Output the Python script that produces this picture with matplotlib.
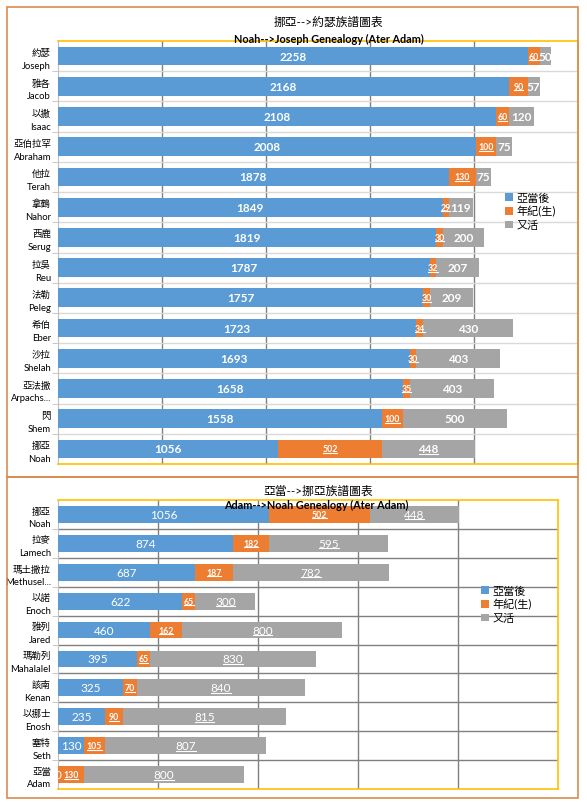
import matplotlib
matplotlib.use("Agg")
import matplotlib.pyplot as plt
import numpy as np
from matplotlib.patches import Rectangle
from matplotlib.lines import Line2D
from matplotlib.transforms import IdentityTransform

plt.rcParams['font.family'] = ['Lato', 'Noto Sans CJK TC', 'DejaVu Sans']

# top chart: Noah -> Joseph
top_cn = ['約瑟', '雅各', '以撒', '亞伯拉罕', '他拉', '拿鶴', '西鹿', '拉吳', '法勒', '希伯', '沙拉', '亞法撒', '閃', '挪亞']
top_en = ['Joseph', 'Jacob', 'Isaac', 'Abraham', 'Terah', 'Nahor', 'Serug', 'Reu', 'Peleg', 'Eber', 'Shelah', 'Arpachs...', 'Shem', 'Noah']
top_after_adam = [2258, 2168, 2108, 2008, 1878, 1849, 1819, 1787, 1757, 1723, 1693, 1658, 1558, 1056]
top_age_birth = [60, 90, 60, 100, 130, 29, 30, 32, 30, 34, 30, 35, 100, 502]
top_lived_on = [50, 57, 120, 75, 75, 119, 200, 207, 209, 430, 403, 403, 500, 448]

# bottom chart: Adam -> Noah
bot_cn = ['挪亞', '拉麥', '瑪土撒拉', '以諾', '雅列', '瑪勒列', '該南', '以挪士', '塞特', '亞當']
bot_en = ['Noah', 'Lamech', 'Methusel...', 'Enoch', 'Jared', 'Mahalalel', 'Kenan', 'Enosh', 'Seth', 'Adam']
bot_after_adam = [1056, 874, 687, 622, 460, 395, 325, 235, 130, 0]
bot_age_birth = [502, 182, 187, 65, 162, 65, 70, 90, 105, 130]
bot_lived_on = [448, 595, 782, 300, 800, 830, 840, 815, 807, 800]

series_names = ['亞當後', '年紀(生)', '又活']
colors = ['#5B9BD5', '#ED7D31', '#A5A5A5']
gold = '#FFC000'
frame_orange = '#D98B4E'

W, H = 587, 804
fig = plt.figure(figsize=(W / 100, H / 100), dpi=100)

# panel borders
for (x0, y0, x1, y1) in [(7, 8, 578, 478), (7, 478, 578, 799)]:
    fig.add_artist(Rectangle((x0 / W, 1 - y1 / H), (x1 - x0) / W, (y1 - y0) / H,
                             transform=fig.transFigure, fill=False,
                             edgecolor=frame_orange, linewidth=1.2))

underline = []


def draw_panel(rect, s1, s2, s3, bold_main, bar_h):
    ax = fig.add_axes(rect)
    y = np.arange(len(s1))
    left2 = np.array(s1)
    left3 = left2 + np.array(s2)
    b1 = ax.barh(y, s1, height=bar_h, color=colors[0], label=series_names[0], zorder=3)
    b2 = ax.barh(y, s2, left=left2, height=bar_h, color=colors[1], label=series_names[1], zorder=3)
    b3 = ax.barh(y, s3, left=left3, height=bar_h, color=colors[2], label=series_names[2], zorder=3)

    w = 'bold' if bold_main else 'normal'
    t1 = ax.bar_label(b1, labels=[str(v) for v in s1], label_type='center',
                      color='white', fontsize=8.5, fontweight=w)
    t2 = ax.bar_label(b2, labels=[str(v) for v in s2], label_type='center',
                      color='white', fontsize=6.3, fontweight='bold')
    t3 = ax.bar_label(b3, labels=[str(v) for v in s3], label_type='center',
                      color='white', fontsize=8.5, fontweight=w)
    for t in list(t1) + list(t2) + list(t3):
        t.set_zorder(5)
    underline.extend(t2)
    return ax, t3


ax1, g1 = draw_panel([58 / W, 1 - 465 / H, 520 / W, 423 / H],
                     top_after_adam, top_age_birth, top_lived_on, True, 0.62)
underline.append(g1[-1])
ax2, g2 = draw_panel([58 / W, 1 - 790 / H, 500 / W, 289 / H],
                     bot_after_adam, bot_age_birth, bot_lived_on, False, 0.58)
underline.extend(g2)

for ax, cn, en, hcol, leg_pos in [(ax1, top_cn, top_en, '#D9D9D9', (0.852, 0.598)),
                                  (ax2, bot_cn, bot_en, '#808080', (0.838, 0.64))]:
    n = len(cn)
    ax.set_xlim(0, 2500)
    ax.set_ylim(n - 0.5, -0.5)
    ax.set_xticks([500, 1000, 1500, 2000])
    ax.set_xticklabels([])
    ax.tick_params(axis='x', length=0)
    ax.grid(axis='x', color='#808080', linewidth=1, zorder=0)
    ax.set_yticks(np.arange(n))
    ax.set_yticklabels([c + '\n' + e for c, e in zip(cn, en)], fontsize=6.8, linespacing=1.55)
    ax.tick_params(axis='y', which='major', length=0, pad=5)
    ax.set_yticks(np.arange(n - 1) + 0.5, minor=True)
    ax.tick_params(axis='y', which='minor', length=4, color='#BFBFBF')
    ax.grid(axis='y', which='minor', color=hcol, linewidth=1, zorder=0)
    for s in ['top', 'right', 'bottom']:
        ax.spines[s].set_color(gold)
        ax.spines[s].set_linewidth(1.2)
    ax.spines['left'].set_color('#BFBFBF')
    ax.legend(loc='center left', bbox_to_anchor=leg_pos, frameon=False, fontsize=8,
              handlelength=0.7, handleheight=0.7, handletextpad=0.3, labelspacing=0.25,
              borderaxespad=0)

# titles
fig.text(328 / W, 1 - 22 / H, '挪亞-->約瑟族譜圖表', ha='center', va='center', fontsize=8.5)
fig.text(329 / W, 1 - 39 / H, 'Noah-->Joseph Genealogy (Ater Adam)', ha='center', va='center',
         fontsize=7.8, fontweight='bold', zorder=10)
fig.text(318 / W, 1 - 491 / H, '亞當-->挪亞族譜圖表', ha='center', va='center', fontsize=8.5)
fig.text(316 / W, 1 - 505 / H, 'Adam-->Noah Genealogy (Ater Adam)', ha='center', va='center',
         fontsize=7.8, fontweight='bold', zorder=10)

# white underlines under highlighted labels
fig.canvas.draw()
for t in underline:
    bb = t.get_window_extent()
    fig.add_artist(Line2D([bb.x0 + 0.5, bb.x1 - 0.5], [bb.y0 + 0.5, bb.y0 + 0.5],
                          transform=IdentityTransform(), color='white', linewidth=0.8, zorder=6))

fig.savefig('out.png', dpi=100)
